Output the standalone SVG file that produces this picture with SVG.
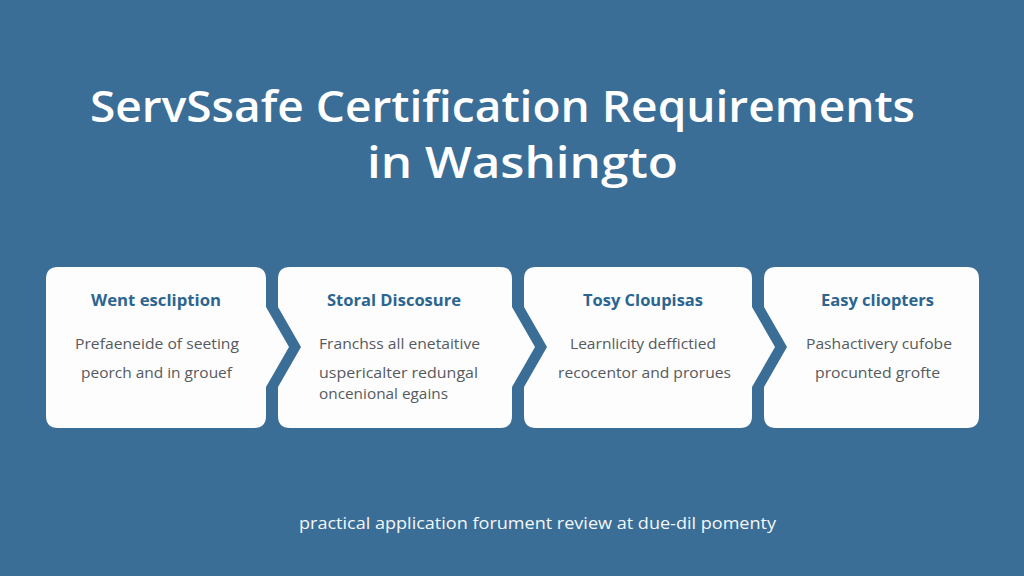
<svg xmlns="http://www.w3.org/2000/svg" width="1024" height="576" viewBox="0 0 1024 576">
<style>
.card{fill:#fdfdfd;}
.title{font-family:"Open Sans","Liberation Sans",sans-serif;font-weight:600;font-size:44px;fill:#ffffff;}
.ct{font-family:"Open Sans","Liberation Sans",sans-serif;font-weight:700;font-size:16px;fill:#2b6590;text-anchor:middle;}
.cb{font-family:"Open Sans","Liberation Sans",sans-serif;font-size:15px;fill:#555a5e;}
.mid{text-anchor:middle;}
.foot{font-family:"Open Sans","Liberation Sans",sans-serif;font-size:17px;fill:#f4f7fa;text-anchor:middle;}
</style>
<rect width="1024" height="576" fill="#3a6e97"/>
<g id="title">
<text class="title" x="90" y="122" textLength="825" lengthAdjust="spacingAndGlyphs">ServSsafe Certification Requirements</text>
<text class="title" x="367" y="178" textLength="311" lengthAdjust="spacingAndGlyphs">in Washingto</text>
</g>
<g id="connectors"></g>
<g id="node1">
<path class="card" d="M58,267 H254 Q266,267 266,279 V307 L289,347 L266,387 V416 Q266,428 254,428 H58 Q46,428 46,416 V279 Q46,267 58,267 Z"/>
<text class="ct" x="156" y="306" textLength="130" lengthAdjust="spacingAndGlyphs">Went escliption</text>
<text class="cb mid" x="157" y="349" textLength="164" lengthAdjust="spacingAndGlyphs">Prefaeneide of seeting</text>
<text class="cb mid" x="156.5" y="378" textLength="151" lengthAdjust="spacingAndGlyphs">peorch and in grouef</text>
</g>
<g id="node2">
<path class="card" d="M290,267 H500 Q512,267 512,279 V307 L535,347 L512,387 V416 Q512,428 500,428 H290 Q278,428 278,416 V387 L301,347 L278,307 V279 Q278,267 290,267 Z"/>
<text class="ct" x="394" y="306" textLength="134" lengthAdjust="spacingAndGlyphs">Storal Discosure</text>
<text class="cb" x="319" y="349" textLength="161" lengthAdjust="spacingAndGlyphs">Franchss all enetaitive</text>
<text class="cb" x="319" y="378" textLength="159" lengthAdjust="spacingAndGlyphs">uspericalter redungal</text>
<text class="cb" x="319" y="399" textLength="129" lengthAdjust="spacingAndGlyphs">oncenional egains</text>
</g>
<g id="node3">
<path class="card" d="M536,267 H740 Q752,267 752,279 V307 L775,347 L752,387 V416 Q752,428 740,428 H536 Q524,428 524,416 V387 L547,347 L524,307 V279 Q524,267 536,267 Z"/>
<text class="ct" x="643" y="306" textLength="120" lengthAdjust="spacingAndGlyphs">Tosy Cloupisas</text>
<text class="cb mid" x="643" y="349" textLength="146" lengthAdjust="spacingAndGlyphs">Learnlicity deffictied</text>
<text class="cb mid" x="644.5" y="378" textLength="173" lengthAdjust="spacingAndGlyphs">recocentor and prorues</text>
</g>
<g id="node4">
<path class="card" d="M776,267 H967 Q979,267 979,279 V416 Q979,428 967,428 H776 Q764,428 764,416 V387 L787,347 L764,307 V279 Q764,267 776,267 Z"/>
<text class="ct" x="877.5" y="306" textLength="113" lengthAdjust="spacingAndGlyphs">Easy cliopters</text>
<text class="cb mid" x="879" y="349" textLength="146" lengthAdjust="spacingAndGlyphs">Pashactivery cufobe</text>
<text class="cb mid" x="877.5" y="378" textLength="125" lengthAdjust="spacingAndGlyphs">procunted grofte</text>
</g>
<g id="footer">
<text class="foot" x="537.5" y="529" textLength="477" lengthAdjust="spacingAndGlyphs">practical application forument review at due-dil pomenty</text>
</g>
</svg>
